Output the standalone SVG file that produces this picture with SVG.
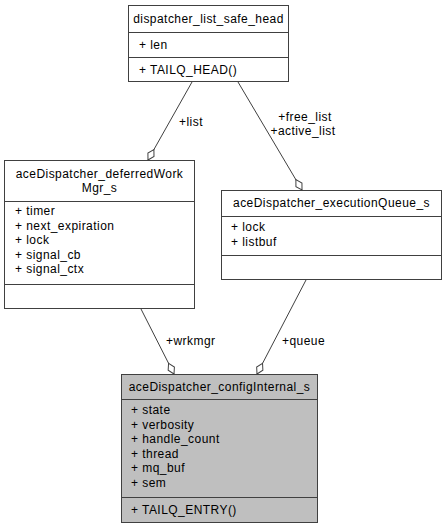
<svg xmlns="http://www.w3.org/2000/svg" width="447" height="529" viewBox="0 0 447 529">
  <style>
    .box { fill: #ffffff; stroke: #404040; stroke-width: 1; }
    .box.cur { fill: #bfbfbf; }
    .sep { stroke: #404040; stroke-width: 1; }
    text { font-family: "Liberation Sans", Arial, Helvetica, sans-serif; font-size: 12px; letter-spacing: 0.45px; fill: #000000; }
    .mid { text-anchor: middle; }
    .edge { fill: none; stroke: #404040; stroke-width: 1; }
  </style>
  <defs>
    <marker id="odiamond" markerUnits="userSpaceOnUse" viewBox="-14 -5 15 10" refX="0" refY="0" markerWidth="15" markerHeight="10" orient="auto">
      <polygon points="0,0 -6,-3.5 -12,0 -6,3.5" fill="#ffffff" stroke="#404040" stroke-width="1"/>
    </marker>
  </defs>

  <g id="connectors">
    <path class="edge" d="M192,82 L148,160" marker-end="url(#odiamond)"/>
    <path class="edge" d="M238,82 L302,190" marker-end="url(#odiamond)"/>
    <path class="edge" d="M141,309 L174,374" marker-end="url(#odiamond)"/>
    <path class="edge" d="M306,280 L257,374" marker-end="url(#odiamond)"/>
    <text x="179" y="125.5">+list</text>
    <text class="mid" x="305" y="121">+free_list</text>
    <text class="mid" x="303" y="135">+active_list</text>
    <text x="166" y="345">+wrkmgr</text>
    <text x="282" y="345">+queue</text>
  </g>

  <g id="dispatcher_list_safe_head">
    <rect class="box" x="128.5" y="5.5" width="160" height="76"/>
    <line class="sep" x1="128.5" y1="32.5" x2="288.5" y2="32.5"/>
    <line class="sep" x1="128.5" y1="57.5" x2="288.5" y2="57.5"/>
    <text class="mid" x="208.5" y="22.5">dispatcher_list_safe_head</text>
    <text x="139" y="48.5">+ len</text>
    <text x="139" y="73.5">+ TAILQ_HEAD()</text>
  </g>

  <g id="aceDispatcher_deferredWorkMgr_s">
    <rect class="box" x="4.5" y="160.5" width="190" height="148"/>
    <line class="sep" x1="4.5" y1="201.5" x2="194.5" y2="201.5"/>
    <line class="sep" x1="4.5" y1="284.5" x2="194.5" y2="284.5"/>
    <text class="mid" x="99.5" y="177.5">aceDispatcher_deferredWork</text>
    <text class="mid" x="99.5" y="192">Mgr_s</text>
    <text x="15" y="215">+ timer</text>
    <text x="15" y="229.5">+ next_expiration</text>
    <text x="15" y="244">+ lock</text>
    <text x="15" y="258.5">+ signal_cb</text>
    <text x="15" y="273">+ signal_ctx</text>
  </g>

  <g id="aceDispatcher_executionQueue_s">
    <rect class="box" x="221.5" y="190.5" width="220" height="89"/>
    <line class="sep" x1="221.5" y1="216.5" x2="441.5" y2="216.5"/>
    <line class="sep" x1="221.5" y1="255.5" x2="441.5" y2="255.5"/>
    <text class="mid" x="331.5" y="207">aceDispatcher_executionQueue_s</text>
    <text x="231" y="231">+ lock</text>
    <text x="231" y="245.5">+ listbuf</text>
  </g>

  <g id="aceDispatcher_configInternal_s">
    <rect class="box cur" x="121.5" y="374.5" width="196" height="148"/>
    <line class="sep" x1="121.5" y1="399.5" x2="317.5" y2="399.5"/>
    <line class="sep" x1="121.5" y1="497.5" x2="317.5" y2="497.5"/>
    <text class="mid" x="219.5" y="390.5">aceDispatcher_configInternal_s</text>
    <text x="131" y="414">+ state</text>
    <text x="131" y="428.5">+ verbosity</text>
    <text x="131" y="443">+ handle_count</text>
    <text x="131" y="457.5">+ thread</text>
    <text x="131" y="472">+ mq_buf</text>
    <text x="131" y="486.5">+ sem</text>
    <text x="131" y="514">+ TAILQ_ENTRY()</text>
  </g>
</svg>
